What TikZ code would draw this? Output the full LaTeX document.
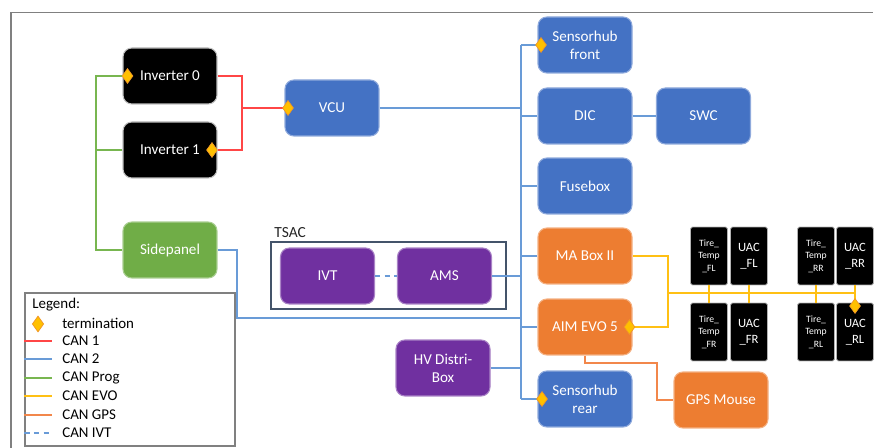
\documentclass[tikz,border=0pt]{standalone}
\usepackage{fontspec}
\setmainfont{Carlito}
\usetikzlibrary{shapes.geometric}
\definecolor{cblue}{RGB}{68,114,196}
\definecolor{corange}{RGB}{237,125,49}
\definecolor{cpurple}{RGB}{112,48,160}
\definecolor{cgreen}{RGB}{112,173,71}
\definecolor{lred}{RGB}{255,70,70}
\definecolor{lblue}{RGB}{105,155,215}
\definecolor{lgreen}{RGB}{120,182,80}
\definecolor{lyellow}{RGB}{255,192,20}
\definecolor{lorange}{RGB}{242,135,75}
\definecolor{tfill}{RGB}{255,192,0}
\definecolor{tdraw}{RGB}{240,150,40}
\definecolor{tsacc}{RGB}{68,84,106}
\tikzset{
  box/.style={rounded corners=5pt, line width=0.6pt, text=white, minimum width=1.88cm, minimum height=1.12cm, inner sep=0pt, align=center, font=\fontsize{8.6}{10.4}\selectfont},
  bluebox/.style={box, fill=cblue, draw=cblue!60!white},
  orangebox/.style={box, fill=corange, draw=corange!60!white},
  purplebox/.style={box, fill=cpurple, draw=cpurple!60!white},
  greenbox/.style={box, fill=cgreen, draw=cgreen!60!white},
  blackbox/.style={box, fill=black, draw=gray!50},
  smallbox/.style={rounded corners=1pt, fill=black, draw=gray!60, line width=0.5pt, text=white, minimum width=0.74cm, minimum height=1.16cm, inner sep=0pt, align=center},
  tiretxt/.style={font=\fontsize{5.5}{7.2}\selectfont},
  uactxt/.style={font=\fontsize{7.2}{9}\selectfont},
  term/.style={diamond, fill=tfill, draw=tdraw, line width=0.4pt, inner sep=0pt, minimum width=0.22cm, minimum height=0.30cm},
  canone/.style={draw=lred, line width=0.9pt},
  cantwo/.style={draw=lblue, line width=0.9pt},
  canprog/.style={draw=lgreen, line width=0.9pt},
  canevo/.style={draw=lyellow, line width=0.9pt},
  cangps/.style={draw=lorange, line width=0.9pt},
  canivt/.style={draw=lblue, line width=0.9pt, dash pattern=on 3pt off 2.5pt},
  legtxt/.style={anchor=west, inner sep=0pt, font=\fontsize{8.5}{10}\selectfont},
}
\begin{document}
\begin{tikzpicture}[x=0.02cm, y=-0.02cm]
\useasboundingbox (0,0) rectangle (874,448);
% outer frame
\draw[gray, line width=1pt] (11,448) -- (11,12.5) -- (873,12.5);

% TSAC frame
\node[draw=tsacc, line width=1pt, minimum width=4.7cm, minimum height=1.34cm, inner sep=0pt] (tsac) at (388.5,275.5) {};
\node[anchor=west, inner sep=0pt, font=\fontsize{8.8}{10}\selectfont, text=black!85] (tsaclbl) at (274,233) {TSAC};

% nodes
\node[blackbox] (inv0) at (170,76) {Inverter 0};
\node[blackbox] (inv1) at (170,150) {Inverter 1};
\node[greenbox] (side) at (170,250) {Sidepanel};
\node[bluebox] (vcu) at (332,108) {VCU};
\node[bluebox] (shf) at (585,45) {Sensorhub\\front};
\node[bluebox] (dic) at (585,116) {DIC};
\node[bluebox] (swc) at (703.5,116) {SWC};
\node[bluebox] (fuse) at (585,186) {Fusebox};
\node[orangebox] (ma) at (585,256) {MA Box II};
\node[orangebox] (aim) at (585,327) {AIM EVO 5};
\node[bluebox] (shr) at (585,399) {Sensorhub\\rear};
\node[orangebox] (gps) at (721,400) {GPS Mouse};
\node[purplebox] (ivt) at (327.5,276) {IVT};
\node[purplebox] (ams) at (444.5,276) {AMS};
\node[purplebox] (hv) at (443,368) {HV Distri-\\Box};

\node[smallbox, tiretxt] (ttfl) at (709,256) {Tire\_\\Temp\\\_FL};
\node[smallbox, uactxt] (uacfl) at (749,256) {UAC\\\_FL};
\node[smallbox, tiretxt] (ttfr) at (709,332) {Tire\_\\Temp\\\_FR};
\node[smallbox, uactxt] (uacfr) at (749,332) {UAC\\\_FR};
\node[smallbox, tiretxt] (ttrr) at (816,256) {Tire\_\\Temp\\\_RR};
\node[smallbox, uactxt] (uacrr) at (855,256) {UAC\\\_RR};
\node[smallbox, tiretxt] (ttrl) at (816,332) {Tire\_\\Temp\\\_RL};
\node[smallbox, uactxt] (uacrl) at (855,332) {UAC\\\_RL};

% helper coordinates
\coordinate (g) at (96,0);
\coordinate (r) at (242,0);
\coordinate (b) at (521,0);
\coordinate (sp) at (237,318);
\coordinate (ey) at (668,293);
\coordinate (gp) at (657,363);

% CAN Prog
\draw[canprog] (inv0.west) -| (g |- side.west) -- (side.west);
\draw[canprog] (inv1.west) -- (g |- inv1.west);
% CAN 1
\draw[canone] (inv0.east) -| (r |- inv1.east) -- (inv1.east);
\draw[canone] (r |- vcu.west) -- (vcu.west);
% CAN 2
\draw[cantwo] (b |- shf.west) -- (b |- shr.west);
\draw[cantwo] (shf.west) -- (b |- shf.west);
\draw[cantwo] (dic.west) -- (b |- dic.west);
\draw[cantwo] (fuse.west) -- (b |- fuse.west);
\draw[cantwo] (ma.west) -- (b |- ma.west);
\draw[cantwo] (aim.west) -- (b |- aim.west);
\draw[cantwo] (shr.west) -- (b |- shr.west);
\draw[cantwo] (vcu.east) -- (b |- vcu.east);
\draw[cantwo] (dic.east) -- (swc.west);
\draw[cantwo] (ams.east) -- (b |- ams.east);
\draw[cantwo] (hv.east) -- (b |- hv.east);
\draw[cantwo] (side.east) -| (sp) -- (b |- sp);
% CAN IVT
\draw[canivt] (ivt.east) -- (ams.west);
% CAN EVO
\draw[canevo] (ma.east) -| (ey |- aim.east) -- (aim.east);
\draw[canevo] (ey) -- (ey -| uacrr.south);
\draw[canevo] (ttfl.south) -- (ttfr.north);
\draw[canevo] (uacfl.south) -- (uacfr.north);
\draw[canevo] (ttrr.south) -- (ttrl.north);
\draw[canevo] (uacrr.south) -- (uacrl.north);
% CAN GPS
\draw[cangps] (aim.south) |- (gp) |- (gps.west);

% terminations
\node[term] (t1) at (127.5,76) {};
\node[term] (t2) at (212,150) {};
\node[term] (t3) at (288,108) {};
\node[term] (t4) at (541,45) {};
\node[term] (t5) at (542,399) {};
\node[term] (t6) at (629.5,327) {};
\node[term] (t7) at (855,306) {};

% legend
\node[draw=gray, line width=0.8pt, minimum width=4.2cm, minimum height=3.06cm, inner sep=0pt] (legend) at (130,369.5) {};
\node[legtxt] (lg0) at (32,305) {Legend:};
\node[term, minimum width=0.23cm, minimum height=0.32cm] (lgt) at (38,324) {};
\node[legtxt] (lg1) at (62,323) {termination};
\node[legtxt] (lg2) at (62,341) {CAN 1};
\node[legtxt] (lg3) at (62,359) {CAN 2};
\node[legtxt] (lg4) at (62,378) {CAN Prog};
\node[legtxt] (lg5) at (62,396) {CAN EVO};
\node[legtxt] (lg6) at (62,415) {CAN GPS};
\node[legtxt] (lg7) at (62,433) {CAN IVT};
\coordinate (le) at (52,0);
\draw[canone] (legend.west |- lg2.west) -- (le |- lg2.west);
\draw[cantwo] (legend.west |- lg3.west) -- (le |- lg3.west);
\draw[canprog] (legend.west |- lg4.west) -- (le |- lg4.west);
\draw[canevo] (legend.west |- lg5.west) -- (le |- lg5.west);
\draw[cangps] (legend.west |- lg6.west) -- (le |- lg6.west);
\draw[canivt] (legend.west |- lg7.west) -- (le |- lg7.west);
\end{tikzpicture}
\end{document}
